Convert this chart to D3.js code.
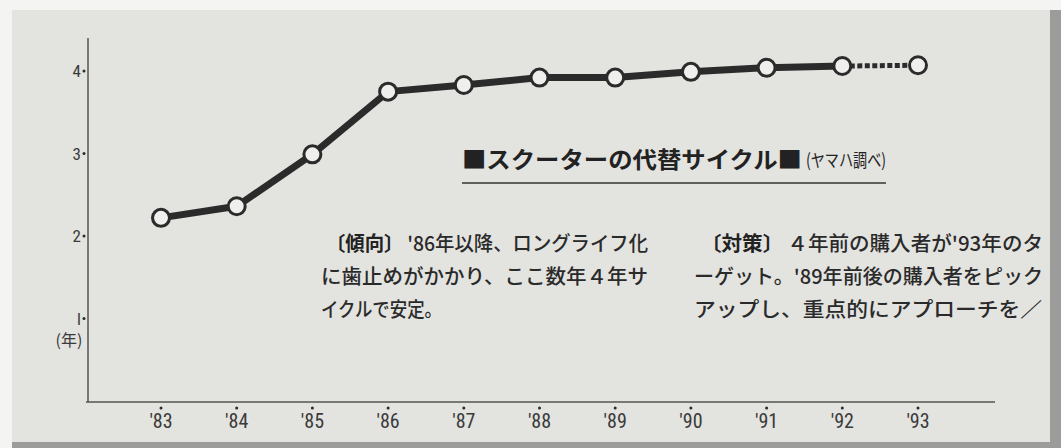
<!DOCTYPE html>
<html><head><meta charset="utf-8">
<script src="https://cdn.jsdelivr.net/npm/d3@7"></script>
<style>
html,body{margin:0;padding:0;background:#f4f4f2;}
svg{display:block;}
</style></head>
<body>
<svg id="chart" width="1061" height="448"></svg>
<script>
const years = ["'83","'84","'85","'86","'87","'88","'89","'90","'91","'92","'93"];
const cycle = [2.22, 2.36, 2.99, 3.75, 3.83, 3.92, 3.92, 3.99, 4.04, 4.06, 4.07];
const yTicks = [1, 2, 3, 4];
const yUnit = "(年)";
const titleMain = "■スクーターの代替サイクル■";
const titleSource = "(ヤマハ調べ)";
const trendHead = "〔傾向〕";
const trendLines = ["'86年以降、ロングライフ化", "に歯止めがかかり、ここ数年４年サ", "イクルで安定。"];
const actionHead = "〔対策〕";
const actionLines = ["４年前の購入者が'93年のタ", "ーゲット。'89年前後の購入者をピック", "アップし、重点的にアプローチを／"];

const svg = d3.select("#chart");
const jp = "'Noto Sans CJK JP','Noto Sans',sans-serif";
const num = "'Liberation Sans Narrow','Roboto Condensed','Liberation Sans',sans-serif";
const ink = "#2b2b2b";

// panel + shadow
svg.append("rect").attr("x",1050).attr("y",10).attr("width",11).attr("height",438).attr("fill","#9c9c9a");
svg.append("rect").attr("x",12).attr("y",442).attr("width",1049).attr("height",6).attr("fill","#9c9c9a");
svg.append("rect").attr("x",12).attr("y",10).attr("width",1038).attr("height",432).attr("fill","#e3e3e0");

const x = d3.scalePoint().domain(years).range([161, 918]);
const y = d3.scaleLinear().domain([0, 4]).range([401, 71]);

// axes lines
svg.append("line").attr("x1",88).attr("x2",88).attr("y1",38).attr("y2",402).attr("stroke","#555").attr("stroke-width",1.5);
svg.append("line").attr("x1",86).attr("x2",995).attr("y1",402).attr("y2",402).attr("stroke","#555").attr("stroke-width",1.5);

// y ticks
const yg = svg.append("g");
yTicks.forEach(t => {
  yg.append("circle").attr("cx",84).attr("cy",y(t)).attr("r",1.5).attr("fill",ink);
  yg.append("text").attr("x",81).attr("y",y(t)).attr("dy","0.36em").attr("text-anchor","end")
    .attr("font-family",num).attr("font-size",17).attr("fill","#3a3a3a").text(t === 1 ? "l" : t);
});
yg.append("text").attr("x",69).attr("y",340).attr("dy","0.36em").attr("text-anchor","middle")
  .attr("font-family",jp).attr("font-size",16).attr("fill","#3a3a3a").text(yUnit);

// x ticks
const xg = svg.append("g");
years.forEach(yr => {
  xg.append("circle").attr("cx",x(yr)).attr("cy",408).attr("r",1.5).attr("fill",ink);
  xg.append("text").attr("x",x(yr)).attr("y",428).attr("text-anchor","middle")
    .attr("font-family",num).attr("font-size",20).attr("fill","#3a3a3a").text(yr);
});

// line
const pts = years.map((yr,i)=>({yr, v:cycle[i]}));
const line = d3.line().x(d=>x(d.yr)).y(d=>y(d.v));
svg.append("path").datum(pts.slice(0,10)).attr("d",line).attr("fill","none")
  .attr("stroke",ink).attr("stroke-width",7).attr("stroke-linejoin","round");
svg.append("path").datum(pts.slice(9)).attr("d",line).attr("fill","none")
  .attr("stroke",ink).attr("stroke-width",5).attr("stroke-dasharray","5,2.5");
svg.selectAll("circle.pt").data(pts).enter().append("circle").attr("class","pt")
  .attr("cx",d=>x(d.yr)).attr("cy",d=>y(d.v)).attr("r",8.5)
  .attr("fill","#efefed").attr("stroke",ink).attr("stroke-width",3);

// title
svg.append("text").attr("x",462).attr("y",168).attr("font-family",jp).attr("fill","#222")
  .attr("font-size",23).attr("font-weight","bold").attr("textLength",340).attr("lengthAdjust","spacingAndGlyphs")
  .text(titleMain);
svg.append("text").attr("x",806).attr("y",167).attr("font-family",jp).attr("fill","#222")
  .attr("font-size",18).attr("textLength",80).attr("lengthAdjust","spacingAndGlyphs").text(titleSource);
svg.append("line").attr("x1",462).attr("x2",886).attr("y1",183).attr("y2",183).attr("stroke","#333").attr("stroke-width",1.5);

// notes
function note(head, lines, layout){
  lines.forEach((s,i)=>{
    const L = layout[i];
    const t = svg.append("text").attr("x",L.x).attr("y",251 + i*33).attr("font-family",jp)
      .attr("font-size",20).attr("fill","#2a2a2a").attr("font-weight",500)
      .attr("textLength",L.w).attr("lengthAdjust","spacingAndGlyphs");
    if(i===0){
      t.append("tspan").attr("font-weight","bold").attr("fill","#222").text(head);
      t.append("tspan").attr("dx",4).text(s);
    } else t.text(s);
  });
}
note(trendHead, trendLines, [{x:326,w:322},{x:321,w:327},{x:321,w:121}]);
note(actionHead, actionLines, [{x:701,w:342},{x:694,w:349},{x:694,w:348}]);
</script>
</body></html>
